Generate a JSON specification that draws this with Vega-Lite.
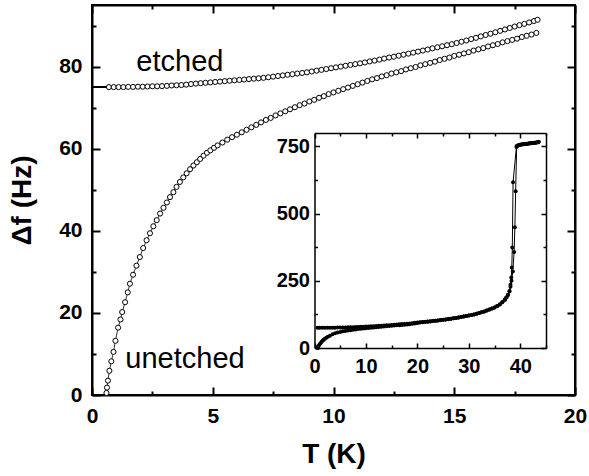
{
"$schema": "https://vega.github.io/schema/vega-lite/v6.json",
"width": 483, "height": 390,
"autosize": {"type": "none"},
"padding": {"left": 92, "top": 5, "right": 14, "bottom": 81},
"config": {"font": "Liberation Sans", "view": {"stroke": "black", "strokeWidth": 2}, "axis": {"grid": false, "zindex": 1, "labelFlush": false, "labelOverlap": false}},
"datasets": {
  "etched": [
    {"T":0.7,"v":75.0},{"T":0.9,"v":75.0},{"T":1.1,"v":75.0},{"T":1.3,"v":75.0},{"T":1.5,"v":75.05},{"T":1.7,"v":75.05},{"T":1.9,"v":75.1},{"T":2.1,"v":75.1},{"T":2.3,"v":75.15},{"T":2.5,"v":75.2},{"T":2.7,"v":75.2},{"T":2.9,"v":75.25},{"T":3.1,"v":75.3},{"T":3.3,"v":75.4},{"T":3.5,"v":75.45},{"T":3.7,"v":75.5},{"T":3.9,"v":75.6},{"T":4.1,"v":75.75},{"T":4.3,"v":75.85},{"T":4.5,"v":75.95},{"T":4.7,"v":76.05},{"T":4.9,"v":76.15},{"T":5.1,"v":76.25},{"T":5.3,"v":76.35},{"T":5.5,"v":76.45},{"T":5.7,"v":76.55},{"T":5.9,"v":76.65},{"T":6.1,"v":76.75},{"T":6.3,"v":76.85},{"T":6.5,"v":76.95},{"T":6.7,"v":77.05},{"T":6.9,"v":77.15},{"T":7.1,"v":77.25},{"T":7.3,"v":77.4},{"T":7.5,"v":77.55},{"T":7.7,"v":77.7},{"T":7.9,"v":77.85},{"T":8.1,"v":78.0},{"T":8.3,"v":78.15},{"T":8.5,"v":78.3},{"T":8.7,"v":78.45},{"T":8.9,"v":78.6},{"T":9.1,"v":78.8},{"T":9.3,"v":79.0},{"T":9.5,"v":79.2},{"T":9.7,"v":79.4},{"T":9.9,"v":79.6},{"T":10.1,"v":79.8},{"T":10.3,"v":80.0},{"T":10.5,"v":80.2},{"T":10.7,"v":80.4},{"T":10.9,"v":80.6},{"T":11.1,"v":80.8},{"T":11.3,"v":81.0},{"T":11.5,"v":81.25},{"T":11.7,"v":81.45},{"T":11.9,"v":81.7},{"T":12.1,"v":81.95},{"T":12.3,"v":82.2},{"T":12.5,"v":82.4},{"T":12.7,"v":82.65},{"T":12.9,"v":82.9},{"T":13.1,"v":83.15},{"T":13.3,"v":83.4},{"T":13.5,"v":83.65},{"T":13.7,"v":83.9},{"T":13.9,"v":84.15},{"T":14.1,"v":84.45},{"T":14.3,"v":84.7},{"T":14.5,"v":84.95},{"T":14.7,"v":85.2},{"T":14.9,"v":85.45},{"T":15.1,"v":85.75},{"T":15.3,"v":86.05},{"T":15.5,"v":86.35},{"T":15.7,"v":86.7},{"T":15.9,"v":87.0},{"T":16.1,"v":87.35},{"T":16.3,"v":87.7},{"T":16.5,"v":88.0},{"T":16.7,"v":88.35},{"T":16.9,"v":88.7},{"T":17.1,"v":89.05},{"T":17.3,"v":89.4},{"T":17.5,"v":89.75},{"T":17.7,"v":90.1},{"T":17.9,"v":90.4},{"T":18.1,"v":90.75},{"T":18.3,"v":91.1},{"T":18.45,"v":91.4}
  ],
  "unetched": [
    {"T":0.6,"v":0.5},{"T":0.62,"v":1.8},{"T":0.66,"v":3.5},{"T":0.72,"v":5.9},{"T":0.8,"v":8.2},{"T":0.89,"v":10.5},{"T":0.97,"v":13.2},{"T":1.08,"v":16.4},{"T":1.18,"v":18.4},{"T":1.25,"v":20.2},{"T":1.37,"v":22.6},{"T":1.48,"v":25.0},{"T":1.57,"v":27.1},{"T":1.7,"v":29.3},{"T":1.84,"v":31.5},{"T":1.98,"v":33.6},{"T":2.12,"v":35.8},{"T":2.26,"v":37.7},{"T":2.4,"v":39.4},{"T":2.54,"v":41.1},{"T":2.68,"v":42.6},{"T":2.82,"v":44.2},{"T":2.96,"v":45.6},{"T":3.1,"v":46.9},{"T":3.23,"v":48.2},{"T":3.37,"v":49.4},{"T":3.5,"v":50.7},{"T":3.64,"v":51.9},{"T":3.78,"v":53.0},{"T":3.92,"v":54.0},{"T":4.06,"v":55.0},{"T":4.2,"v":55.9},{"T":4.34,"v":56.7},{"T":4.48,"v":57.5},{"T":4.62,"v":58.3},{"T":4.76,"v":59.0},{"T":4.9,"v":59.6},{"T":5.05,"v":60.2},{"T":5.2,"v":60.8},{"T":5.4,"v":61.5},{"T":5.6,"v":62.2},{"T":5.8,"v":62.8},{"T":6.0,"v":63.4},{"T":6.2,"v":64.0},{"T":6.4,"v":64.6},{"T":6.6,"v":65.2},{"T":6.8,"v":65.8},{"T":7.0,"v":66.4},{"T":7.2,"v":67.0},{"T":7.4,"v":67.5},{"T":7.6,"v":68.1},{"T":7.8,"v":68.6},{"T":8.0,"v":69.1},{"T":8.2,"v":69.6},{"T":8.4,"v":70.1},{"T":8.6,"v":70.6},{"T":8.8,"v":71.0},{"T":9.0,"v":71.5},{"T":9.2,"v":71.9},{"T":9.4,"v":72.4},{"T":9.6,"v":72.8},{"T":9.8,"v":73.3},{"T":10.0,"v":73.7},{"T":10.2,"v":74.1},{"T":10.4,"v":74.5},{"T":10.6,"v":74.9},{"T":10.8,"v":75.3},{"T":11.0,"v":75.7},{"T":11.2,"v":76.1},{"T":11.4,"v":76.5},{"T":11.6,"v":76.9},{"T":11.8,"v":77.2},{"T":12.0,"v":77.6},{"T":12.2,"v":77.9},{"T":12.4,"v":78.3},{"T":12.6,"v":78.6},{"T":12.8,"v":78.9},{"T":13.0,"v":79.3},{"T":13.2,"v":79.6},{"T":13.4,"v":79.9},{"T":13.6,"v":80.3},{"T":13.8,"v":80.6},{"T":14.0,"v":80.9},{"T":14.2,"v":81.2},{"T":14.4,"v":81.6},{"T":14.6,"v":81.9},{"T":14.8,"v":82.2},{"T":15.0,"v":82.6},{"T":15.2,"v":82.9},{"T":15.4,"v":83.2},{"T":15.6,"v":83.5},{"T":15.8,"v":83.9},{"T":16.0,"v":84.2},{"T":16.2,"v":84.5},{"T":16.4,"v":84.9},{"T":16.6,"v":85.2},{"T":16.8,"v":85.5},{"T":17.0,"v":85.9},{"T":17.2,"v":86.2},{"T":17.4,"v":86.5},{"T":17.6,"v":86.8},{"T":17.8,"v":87.2},{"T":18.0,"v":87.5},{"T":18.2,"v":87.8},{"T":18.4,"v":88.2}
  ],
  "fit": [
    {"T":0,"v":75.0},{"T":0.5,"v":75.0},{"T":1,"v":75.0},{"T":1.5,"v":75.05},{"T":2,"v":75.1},{"T":2.5,"v":75.2},{"T":3,"v":75.3},{"T":3.5,"v":75.45},{"T":4,"v":75.7},{"T":4.5,"v":75.95},{"T":5,"v":76.2},{"T":6,"v":76.7},{"T":7,"v":77.2},{"T":8,"v":77.9},{"T":9,"v":78.7},{"T":10,"v":79.7},{"T":11,"v":80.7},{"T":12,"v":81.8}
  ],
  "labels": [
    {"T":3.64,"v":79.0,"t":"etched"},{"T":3.85,"v":6.6,"t":"unetched"}
  ],
  "insetE": [
    {"T":0.6,"v":75},{"T":1.0,"v":75},{"T":1.5,"v":75},{"T":2.0,"v":75},{"T":2.5,"v":75.2},{"T":3.0,"v":75.3},{"T":3.5,"v":75.5},{"T":4.0,"v":75.7},{"T":4.5,"v":76},{"T":5.0,"v":76.2},{"T":5.5,"v":76.5},{"T":6.0,"v":76.7},{"T":6.5,"v":77},{"T":7.0,"v":77.2},{"T":7.5,"v":77.6},{"T":8.0,"v":77.9},{"T":8.5,"v":78.3},{"T":9.0,"v":78.7},{"T":9.5,"v":79.2},{"T":10.0,"v":79.7},{"T":10.5,"v":80.2},{"T":11.0,"v":80.7},{"T":11.5,"v":81.2},{"T":12.0,"v":81.8},{"T":12.5,"v":82.4},{"T":13.0,"v":83.0},{"T":13.5,"v":83.6},{"T":14.0,"v":84.3},{"T":14.5,"v":85},{"T":15.0,"v":85.6},{"T":15.5,"v":86.4},{"T":16.0,"v":87.2},{"T":16.5,"v":88},{"T":17.0,"v":88.9},{"T":17.5,"v":89.7},{"T":18.0,"v":90.6},{"T":18.5,"v":91.5},{"T":19,"v":92.5},{"T":19.5,"v":93.5},{"T":20,"v":94.5},{"T":20.5,"v":95.5},{"T":21,"v":96.5},{"T":21.5,"v":97.5},{"T":22,"v":98.5},{"T":22.5,"v":99.5},{"T":23,"v":100.5},{"T":23.5,"v":101.5},{"T":24,"v":102.5},{"T":24.5,"v":103.8},{"T":25,"v":105},{"T":25.5,"v":106.2},{"T":26,"v":107.5},{"T":26.5,"v":109},{"T":27,"v":110.5},{"T":27.5,"v":112},{"T":28,"v":113.5},{"T":28.5,"v":115.2},{"T":29,"v":117},{"T":29.5,"v":119},{"T":30,"v":121},{"T":30.5,"v":123},{"T":31,"v":125},{"T":31.5,"v":127.5},{"T":32,"v":130},{"T":32.5,"v":133},{"T":33,"v":136},{"T":33.5,"v":139.5},{"T":34,"v":143},{"T":34.5,"v":147},{"T":35,"v":151},{"T":35.5,"v":156},{"T":36,"v":162},{"T":36.5,"v":170},{"T":37,"v":180},{"T":37.3,"v":188},{"T":37.6,"v":198},{"T":37.9,"v":212},{"T":38.1,"v":235},{"T":38.25,"v":262},{"T":38.35,"v":300},{"T":38.45,"v":374},{"T":38.6,"v":617},{"T":39.25,"v":748},{"T":39.5,"v":753},{"T":39.8,"v":755},{"T":40.1,"v":756},{"T":40.4,"v":758},{"T":40.7,"v":758},{"T":41.0,"v":760},{"T":41.3,"v":759},{"T":41.6,"v":761},{"T":41.9,"v":762},{"T":42.2,"v":762},{"T":42.5,"v":763},{"T":42.8,"v":764},{"T":43.1,"v":765},{"T":43.4,"v":766},{"T":43.6,"v":767}
  ],
  "insetU": [
    {"T":0.6,"v":0},{"T":0.7,"v":6},{"T":0.85,"v":9.5},{"T":1.0,"v":14},{"T":1.2,"v":19},{"T":1.4,"v":23.5},{"T":1.6,"v":27.5},{"T":1.8,"v":31},{"T":2.0,"v":34},{"T":2.3,"v":38.5},{"T":2.6,"v":42},{"T":3.0,"v":46},{"T":3.5,"v":50.7},{"T":4.0,"v":54.6},{"T":4.5,"v":57.6},{"T":5.0,"v":60},{"T":5.5,"v":61.9},{"T":6.0,"v":63.4},{"T":6.5,"v":64.9},{"T":7.0,"v":66.4},{"T":7.5,"v":67.8},{"T":8.0,"v":69.1},{"T":8.5,"v":70.3},{"T":9.0,"v":71.5},{"T":9.5,"v":72.6},{"T":10.0,"v":73.7},{"T":10.5,"v":74.7},{"T":11.0,"v":75.7},{"T":11.5,"v":76.7},{"T":12.0,"v":77.6},{"T":12.5,"v":78.5},{"T":13.0,"v":79.3},{"T":13.5,"v":80.1},{"T":14.0,"v":80.9},{"T":14.5,"v":81.7},{"T":15.0,"v":82.6},{"T":15.5,"v":83.4},{"T":16.0,"v":84.2},{"T":16.5,"v":85},{"T":17.0,"v":85.9},{"T":17.5,"v":86.7},{"T":18.0,"v":87.5},{"T":18.5,"v":88.4},{"T":19,"v":90},{"T":19.5,"v":91.5},{"T":20,"v":93},{"T":20.5,"v":94.5},{"T":21,"v":96},{"T":21.5,"v":97},{"T":22,"v":98},{"T":22.5,"v":99},{"T":23,"v":100.3},{"T":23.5,"v":101.3},{"T":24,"v":102.3},{"T":24.5,"v":103.5},{"T":25,"v":104.8},{"T":25.5,"v":106},{"T":26,"v":107.3},{"T":26.5,"v":108.8},{"T":27,"v":110.3},{"T":27.5,"v":111.8},{"T":28,"v":113.3},{"T":28.5,"v":115},{"T":29,"v":116.8},{"T":29.5,"v":118.8},{"T":30,"v":120.8},{"T":30.5,"v":122.8},{"T":31,"v":124.8},{"T":31.5,"v":127.3},{"T":32,"v":129.8},{"T":32.5,"v":132.8},{"T":33,"v":135.8},{"T":33.5,"v":139.3},{"T":34,"v":142.8},{"T":34.5,"v":146.8},{"T":35,"v":150.8},{"T":35.5,"v":155.8},{"T":36,"v":161.8},{"T":36.5,"v":169.8},{"T":37,"v":179.5},{"T":37.3,"v":187.5},{"T":37.6,"v":197},{"T":37.9,"v":210},{"T":38.1,"v":228},{"T":38.3,"v":250},{"T":38.55,"v":285},{"T":38.8,"v":357},{"T":38.95,"v":449},{"T":39.1,"v":583},{"T":39.3,"v":752},{"T":39.6,"v":754},{"T":39.9,"v":756},{"T":40.2,"v":757},{"T":40.5,"v":758},{"T":40.8,"v":759},{"T":41.1,"v":759},{"T":41.4,"v":760},{"T":41.7,"v":761},{"T":42.0,"v":762},{"T":42.3,"v":763},{"T":42.6,"v":763},{"T":42.9,"v":764},{"T":43.2,"v":765},{"T":43.5,"v":766}
  ],
  "dummy": [{"T":0,"v":0}]
},
"layer": [
  {
    "encoding": {
      "x": {"field": "T", "type": "quantitative", "scale": {"domain": [0, 20], "nice": false, "zero": false},
        "axis": {"orient": "bottom", "title": "T (K)", "values": [0,5,10,15,20],
          "tickSize": -8, "tickWidth": 2, "tickColor": "black", "labelPadding": 18, "domain": true, "domainWidth": 2, "domainColor": "black",
          "labelColor": "black", "labelFontSize": 21, "labelFontWeight": "bold",
          "titleColor": "black", "titleFontSize": 28, "titleFontWeight": "bold", "titlePadding": 14}},
      "y": {"field": "v", "type": "quantitative", "scale": {"domain": [0, 95], "nice": false, "zero": false},
        "axis": {"orient": "left", "title": "Δf (Hz)", "values": [0,20,40,60,80],
          "tickSize": -8, "tickWidth": 2, "tickColor": "black", "labelPadding": 18, "domain": true, "domainWidth": 2, "domainColor": "black",
          "labelColor": "black", "labelFontSize": 21, "labelFontWeight": "bold",
          "titleColor": "black", "titleFontSize": 28, "titleFontWeight": "bold", "titlePadding": 22}}
    },
    "layer": [
      {"data": {"name": "etched"}, "mark": {"type": "line", "color": "black", "strokeWidth": 0.8}},
      {"data": {"name": "unetched"}, "mark": {"type": "line", "color": "black", "strokeWidth": 0.8}},
      {"data": {"name": "fit"}, "mark": {"type": "line", "color": "black", "strokeWidth": 2}},
      {"data": {"name": "etched"}, "mark": {"type": "point", "shape": "circle", "filled": true, "fill": "white", "stroke": "black", "strokeWidth": 1, "size": 26, "opacity": 1}},
      {"data": {"name": "unetched"}, "mark": {"type": "point", "shape": "circle", "filled": true, "fill": "white", "stroke": "black", "strokeWidth": 1, "size": 26, "opacity": 1}},
      {"data": {"name": "labels"}, "mark": {"type": "text", "fontSize": 29, "color": "black", "align": "center", "baseline": "alphabetic"}, "encoding": {"text": {"field": "t"}}}
    ]
  },
  {
    "data": {"name": "dummy"},
    "mark": {"type": "point", "opacity": 0},
    "encoding": {
      "x": {"field": "T", "type": "quantitative", "scale": {"domain": [0, 20], "nice": false, "zero": false},
        "axis": {"orient": "top", "title": null, "values": [0,5,10,15,20], "labels": false, "tickSize": -8, "tickWidth": 2, "tickColor": "black", "domain": true, "domainWidth": 2, "domainColor": "black"}},
      "y": {"field": "v", "type": "quantitative", "scale": {"domain": [0, 95], "nice": false, "zero": false},
        "axis": {"orient": "right", "title": null, "values": [0,20,40,60,80], "labels": false, "tickSize": -8, "tickWidth": 2, "tickColor": "black", "domain": true, "domainWidth": 2, "domainColor": "black"}}
    }
  },
  {
    "data": {"name": "dummy"},
    "mark": {"type": "point", "opacity": 0},
    "encoding": {
      "x": {"field": "T", "type": "quantitative", "scale": {"domain": [0, 20], "nice": false, "zero": false},
        "axis": {"orient": "bottom", "title": null, "values": [2.5,7.5,12.5,17.5], "labels": false, "tickSize": -4, "tickWidth": 2, "tickColor": "black", "domain": false}},
      "y": {"field": "v", "type": "quantitative", "scale": {"domain": [0, 95], "nice": false, "zero": false},
        "axis": {"orient": "left", "title": null, "values": [10,30,50,70,90], "labels": false, "tickSize": -4, "tickWidth": 2, "tickColor": "black", "domain": false}}
    }
  },
  {
    "data": {"name": "dummy"},
    "mark": {"type": "point", "opacity": 0},
    "encoding": {
      "x": {"field": "T", "type": "quantitative", "scale": {"domain": [0, 20], "nice": false, "zero": false},
        "axis": {"orient": "top", "title": null, "values": [2.5,7.5,12.5,17.5], "labels": false, "tickSize": -4, "tickWidth": 2, "tickColor": "black", "domain": false}},
      "y": {"field": "v", "type": "quantitative", "scale": {"domain": [0, 95], "nice": false, "zero": false},
        "axis": {"orient": "right", "title": null, "values": [10,30,50,70,90], "labels": false, "tickSize": -4, "tickWidth": 2, "tickColor": "black", "domain": false}}
    }
  },
  {
    "encoding": {
      "x": {"field": "T", "type": "quantitative", "scale": {"domain": [0, 45], "nice": false, "zero": false, "range": [222.5, 454]},
        "axis": {"orient": "bottom", "offset": -47, "title": null, "values": [0,10,20,30,40],
          "tickSize": -5, "tickWidth": 1.5, "tickColor": "black", "labelPadding": 13, "domain": true, "domainWidth": 1.5, "domainColor": "black",
          "labelColor": "black", "labelFontSize": 20, "labelFontWeight": "bold"}},
      "y": {"field": "v", "type": "quantitative", "scale": {"domain": [0, 800], "nice": false, "zero": false, "range": [343, 128]},
        "axis": {"orient": "left", "offset": -222.5, "title": null, "values": [0,250,500,750],
          "tickSize": -5, "tickWidth": 1.5, "tickColor": "black", "labelPadding": 10, "domain": true, "domainWidth": 1.5, "domainColor": "black",
          "labelColor": "black", "labelFontSize": 20, "labelFontWeight": "bold"}}
    },
    "layer": [
      {"data": {"name": "insetE"}, "mark": {"type": "line", "color": "black", "strokeWidth": 1}},
      {"data": {"name": "insetU"}, "mark": {"type": "line", "color": "black", "strokeWidth": 1}},
      {"data": {"name": "insetE"}, "mark": {"type": "point", "shape": "circle", "filled": true, "color": "black", "size": 16, "opacity": 1}},
      {"data": {"name": "insetU"}, "mark": {"type": "point", "shape": "circle", "filled": true, "color": "black", "size": 16, "opacity": 1}}
    ]
  },
  {
    "data": {"name": "dummy"},
    "mark": {"type": "point", "opacity": 0},
    "encoding": {
      "x": {"field": "T", "type": "quantitative", "scale": {"domain": [0, 45], "nice": false, "zero": false, "range": [222.5, 454]},
        "axis": {"orient": "top", "offset": -128, "title": null, "values": [0,10,20,30,40], "labels": false, "tickSize": -5, "tickWidth": 1.5, "tickColor": "black", "domain": true, "domainWidth": 1.5, "domainColor": "black"}},
      "y": {"field": "v", "type": "quantitative", "scale": {"domain": [0, 800], "nice": false, "zero": false, "range": [343, 128]},
        "axis": {"orient": "right", "offset": -29, "title": null, "values": [0,250,500,750], "labels": false, "tickSize": -5, "tickWidth": 1.5, "tickColor": "black", "domain": true, "domainWidth": 1.5, "domainColor": "black"}}
    }
  },
  {
    "data": {"name": "dummy"},
    "mark": {"type": "point", "opacity": 0},
    "encoding": {
      "x": {"field": "T", "type": "quantitative", "scale": {"domain": [0, 45], "nice": false, "zero": false, "range": [222.5, 454]},
        "axis": {"orient": "bottom", "offset": -47, "title": null, "values": [5,15,25,35,45], "labels": false, "tickSize": -3, "tickWidth": 1.5, "tickColor": "black", "domain": false}},
      "y": {"field": "v", "type": "quantitative", "scale": {"domain": [0, 800], "nice": false, "zero": false, "range": [343, 128]},
        "axis": {"orient": "left", "offset": -222.5, "title": null, "values": [125,375,625], "labels": false, "tickSize": -3, "tickWidth": 1.5, "tickColor": "black", "domain": false}}
    }
  },
  {
    "data": {"name": "dummy"},
    "mark": {"type": "point", "opacity": 0},
    "encoding": {
      "x": {"field": "T", "type": "quantitative", "scale": {"domain": [0, 45], "nice": false, "zero": false, "range": [222.5, 454]},
        "axis": {"orient": "top", "offset": -128, "title": null, "values": [5,15,25,35,45], "labels": false, "tickSize": -3, "tickWidth": 1.5, "tickColor": "black", "domain": false}},
      "y": {"field": "v", "type": "quantitative", "scale": {"domain": [0, 800], "nice": false, "zero": false, "range": [343, 128]},
        "axis": {"orient": "right", "offset": -29, "title": null, "values": [125,375,625], "labels": false, "tickSize": -3, "tickWidth": 1.5, "tickColor": "black", "domain": false}}
    }
  }
],
"resolve": {"scale": {"x": "independent", "y": "independent"}, "axis": {"x": "independent", "y": "independent"}}
}
